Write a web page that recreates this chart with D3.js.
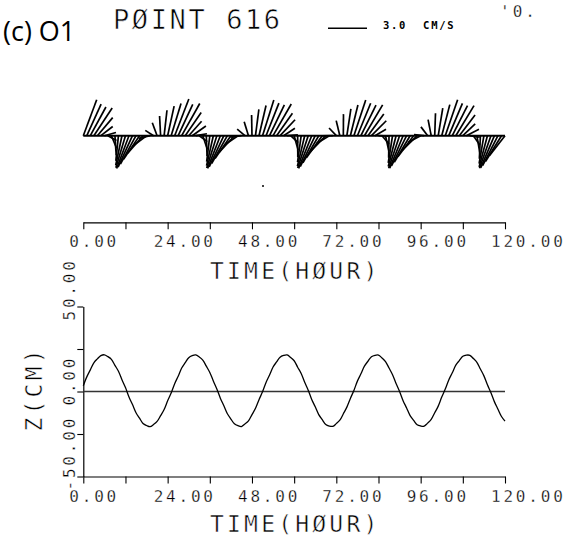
<!DOCTYPE html>
<html><head><meta charset="utf-8">
<script src="https://cdn.jsdelivr.net/npm/d3@7/dist/d3.min.js"></script>
<style>body{margin:0;background:#fff} svg{display:block}</style>
</head><body>
<svg id="c" width="566" height="536"></svg>
<script>
// ---- data ----
const hourTicks  = [0, 12, 24, 36, 48, 60, 72, 84, 96, 108, 120];
const hourLabels = ["0.00", "", "24.00", "", "48.00", "", "72.00", "", "96.00", "", "120.00"];
const zTicks  = [-50, -25, 0, 25, 50];
const zLabels = ["-50.00", "", "0.00", "", "50.00"];
const scaleBarSpeed = 3.0;               // cm/s
// current vector components, one per hour (cm/s)
const uValues = [
  1.03, 1.10, 1.20, 1.41, 1.18, 0.91, 0.89, 0.66, 0.39, 0.10,
  -0.20, -0.48, -0.74, -0.95, -1.11, -1.20, -1.23, -1.18, -1.06, -0.87,
  -0.64, -0.37, -0.08, 0.22, 0.50, 0.76, 1.09, 1.12, 1.39, 1.23,
  0.99, 1.05, 0.86, 0.62, 0.35, 0.06, -0.24, -0.52, -0.78, -0.98,
  -1.13, -1.21, -1.22, -1.16, -1.03, -0.84, -0.60, -0.33, -0.03, 0.26,
  0.54, 0.87, 0.99, 1.14, 1.40, 1.22, 1.15, 0.87, 0.83, 0.58,
  0.31, 0.01, -0.28, -0.56, -0.81, -1.01, -1.15, -1.22, -1.22, -1.15,
  -1.01, -0.81, -0.56, -0.28, 0.01, 0.31, 0.58, 0.91, 1.02, 1.16,
  1.40, 1.22, 1.14, 0.85, 0.79, 0.54, 0.26, -0.03, -0.33, -0.60,
  -0.84, -1.03, -1.16, -1.22, -1.21, -1.13, -0.98, -0.78, -0.52, -0.24,
  0.06, 0.35, 0.62, 0.95, 1.05, 1.17, 1.40, 1.21, 0.95, 0.97,
  0.76, 0.50, 0.22, -0.08, -0.37, -0.64, -0.88, -1.06, -1.18, -1.23,
  -1.20
];
const vValues = [
  2.77, 2.43, 2.21, 2.13, 1.39, 0.71, 0.25, -0.36, -0.95, -1.49,
  -1.93, -2.27, -2.46, -2.52, -2.42, -2.19, -1.82, -1.35, -0.80, -0.20,
  0.41, 1.00, 1.52, 1.96, 2.28, 2.47, 2.82, 2.41, 2.48, 1.79,
  1.11, 0.75, 0.15, -0.46, -1.04, -1.56, -1.99, -2.30, -2.48, -2.51,
  -2.40, -2.14, -1.76, -1.27, -0.71, -0.11, 0.50, 1.08, 1.60, 2.02,
  2.32, 2.74, 2.51, 2.38, 2.44, 1.73, 1.23, 0.57, 0.06, -0.54,
  -1.12, -1.63, -2.04, -2.34, -2.49, -2.51, -2.37, -2.09, -1.69, -1.19,
  -0.62, -0.02, 0.59, 1.16, 1.66, 2.07, 2.36, 2.75, 2.50, 2.35,
  2.37, 1.66, 1.15, 0.49, -0.03, -0.63, -1.20, -1.70, -2.10, -2.37,
  -2.50, -2.49, -2.33, -2.04, -1.62, -1.11, -0.53, 0.08, 0.68, 1.24,
  1.73, 2.12, 2.39, 2.76, 2.49, 2.32, 2.31, 1.59, 0.91, 0.49,
  -0.12, -0.72, -1.28, -1.77, -2.15, -2.40, -2.51, -2.48, -2.30, -1.98,
  -1.55
];
// surface elevation, one per hour (cm)
const zValues = [
  3.4, 8.6, 12.7, 16.9, 19.2, 21.1, 21.6, 20.5, 18.9, 15.4,
  11.9, 6.9, 2.3, -3.2, -7.7, -12.5, -15.7, -18.8, -20.0, -20.7,
  -19.4, -17.6, -14.2, -10.6, -5.5, -0.9, 4.6, 9.0, 13.8, 17.0,
  19.9, 21.1, 21.5, 20.3, 18.5, 14.9, 11.2, 6.2, 1.5, -3.9,
  -8.4, -13.1, -16.2, -19.0, -20.1, -20.6, -19.1, -17.3, -13.6, -9.9,
  -4.8, -0.2, 5.3, 9.7, 14.4, 17.4, 20.2, 21.2, 21.5, 20.0,
  18.1, 14.3, 10.6, 5.4, 0.8, -4.7, -9.0, -13.6, -16.6, -19.4,
  -20.3, -20.5, -18.9, -16.9, -13.1, -9.2, -4.1, 0.6, 6.1, 10.4,
  14.9, 17.8, 20.5, 21.3, 21.4, 19.7, 17.6, 13.8, 9.9, 4.7,
  0.0, -5.4, -9.7, -14.2, -17.0, -19.6, -20.3, -20.4, -18.6, -16.4,
  -12.5, -8.6, -3.3, 1.4, 6.8, 11.0, 15.5, 18.2, 20.7, 21.4,
  21.3, 19.4, 17.2, 13.2, 9.2, 3.9, -0.7, -6.1, -10.4, -14.7,
  -17.4
];

// ---- layout ----
const svg = d3.select("#c");
const MONO = "'DejaVu Sans Mono', monospace";
const ink = "#000";

const x = d3.scaleLinear().domain([0, 120]).range([83.3, 505]);
const speed = d3.scaleLinear().domain([0, 3]).range([0, 39]);         // px per cm/s
const yStick = d3.scaleLinear().domain([-3, 3]).range([135.7 + 39, 135.7 - 39]);
const yZ = d3.scaleLinear().domain([-50, 50]).range([476.5, 306.5]);

// thin "plotter" look: erode glyphs slightly with a white outline drawn over the fill
function thin(sel, w) {
  return sel.attr("stroke", "#fff").attr("stroke-width", w).attr("paint-order", "normal");
}

// ---- header ----
svg.append("text").attr("x", 3).attr("y", 41)
  .attr("font-family", "'Open Sans', 'Noto Sans', sans-serif").attr("font-size", 27)
  .attr("font-weight", 500).attr("fill", ink).text("(c) O1");
thin(svg.append("text").attr("x", 113).attr("y", 29)
  .attr("font-family", MONO).attr("font-size", 27).attr("letter-spacing", 2.6)
  .attr("fill", ink).text("PØINT 616"), 0.6);
svg.append("line").attr("x1", 328).attr("x2", 328 + speed(scaleBarSpeed))
  .attr("y1", 28.3).attr("y2", 28.3).attr("stroke", ink).attr("stroke-width", 1.5);
svg.append("text").attr("x", 383).attr("y", 29.3)
  .attr("font-family", MONO).attr("font-size", 10.5).attr("font-weight", "bold")
  .attr("letter-spacing", 1.7).attr("fill", ink).attr("xml:space", "preserve")
  .text(scaleBarSpeed.toFixed(1) + "  CM/S");
thin(svg.append("text").attr("x", 500).attr("y", 17)
  .attr("font-family", MONO).attr("font-size", 16).attr("letter-spacing", 3)
  .attr("fill", ink).text("'0."), 0.3);

// ---- stick plot ----
const sticks = uValues.map((u, i) => ({ t: i, u, v: vValues[i] }));
svg.append("line").attr("x1", x(0)).attr("x2", x(120))
  .attr("y1", yStick(0)).attr("y2", yStick(0)).attr("stroke", ink).attr("stroke-width", 2);
svg.append("g").selectAll("line").data(sticks).join("line")
  .attr("x1", d => x(d.t)).attr("y1", yStick(0))
  .attr("x2", d => x(d.t) + speed(d.u)).attr("y2", d => yStick(d.v))
  .attr("stroke", ink).attr("stroke-width", 1.7);
svg.append("circle").attr("cx", 263).attr("cy", 186).attr("r", 1).attr("fill", ink);

// ---- axis helper ----
function timeAxis(yPos, titleY) {
  const g = svg.append("g").attr("transform", `translate(0,${yPos})`)
    .call(d3.axisBottom(x).tickValues(hourTicks).tickSize(7).tickSizeOuter(0).tickFormat(""));
  g.select(".domain").attr("stroke", ink).attr("stroke-width", 1.2);
  g.selectAll(".tick line").attr("stroke", ink).attr("stroke-width", 1.1);
  thin(svg.append("g").selectAll("text").data(hourTicks).join("text")
    .attr("x", d => x(d) - 14).attr("y", yPos + 25)
    .attr("font-family", MONO).attr("font-size", 16).attr("letter-spacing", 2.8)
    .attr("fill", ink).text((d, i) => hourLabels[i]), 0.3);
  thin(svg.append("text").attr("x", 210).attr("y", titleY)
    .attr("font-family", MONO).attr("font-size", 23).attr("letter-spacing", 3.2)
    .attr("fill", ink).text("TIME(HØUR)"), 0.5);
}
timeAxis(222.3, 278.5);

// ---- elevation plot ----
const gy = svg.append("g").attr("transform", `translate(${x(0)},0)`)
  .call(d3.axisLeft(yZ).tickValues(zTicks).tickSize(6).tickSizeOuter(0).tickFormat(""));
gy.select(".domain").attr("stroke", ink).attr("stroke-width", 1.2);
gy.selectAll(".tick line").attr("stroke", ink).attr("stroke-width", 1.1);
thin(svg.append("g").selectAll("text").data(zTicks).join("text")
  .attr("transform", d => `translate(75,${yZ(d) + 14}) rotate(-90)`)
  .attr("font-family", MONO).attr("font-size", 16).attr("letter-spacing", 2.8)
  .attr("fill", ink).text((d, i) => zLabels[i]), 0.3);
thin(svg.append("text").attr("transform", `translate(42,${yZ(0) + 40}) rotate(-90)`)
  .attr("font-family", MONO).attr("font-size", 23).attr("letter-spacing", 3.2)
  .attr("fill", ink).text("Z(CM)"), 0.5);

svg.append("line").attr("x1", x(0)).attr("x2", x(120))
  .attr("y1", yZ(0)).attr("y2", yZ(0)).attr("stroke", "#333").attr("stroke-width", 1.6);
svg.append("path").datum(zValues)
  .attr("d", d3.line().x((d, i) => x(i)).y(d => yZ(d)).curve(d3.curveCatmullRom))
  .attr("fill", "none").attr("stroke", ink).attr("stroke-width", 1.3);

timeAxis(yZ(-50), 531.7);
</script>
</body></html>
